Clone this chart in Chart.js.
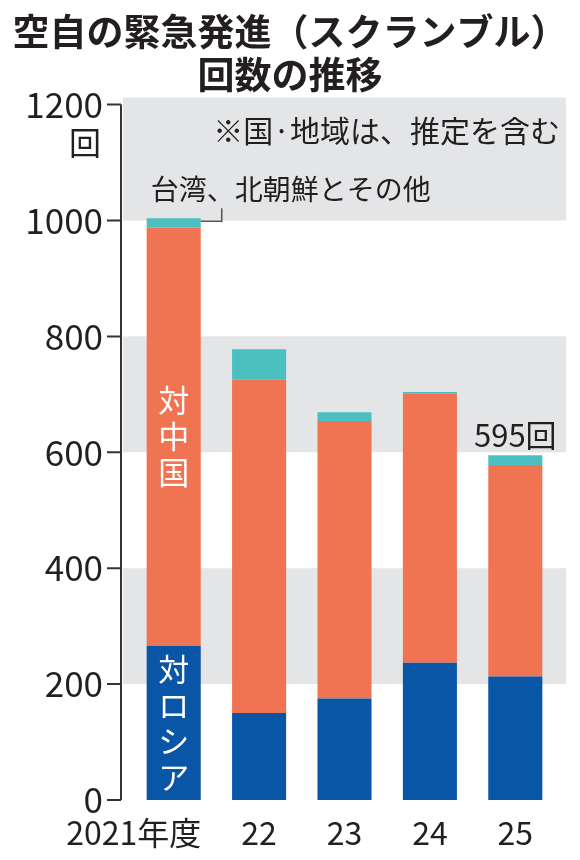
<!DOCTYPE html>
<html>
<head>
<meta charset="utf-8">
<script src="https://cdn.jsdelivr.net/npm/chart.js@4/dist/chart.umd.min.js"></script>
<style>
  html, body { margin: 0; padding: 0; background: #fff; }
  #wrap { width: 580px; height: 860px; }
</style>
</head>
<body>
<div id="wrap"><canvas id="myChart" width="580" height="860"></canvas></div>
<script>
const years = ["2021年度", "22", "23", "24", "25"];
const russia = [266, 150, 175, 237, 213]; // 対ロシア
const china = [722, 575, 479, 464, 365]; // 対中国
const others = [16, 53, 15, 3, 17]; // 台湾、北朝鮮とその他
const yTicks = [0, 200, 400, 600, 800, 1000, 1200];
const titleLines = ["空自の緊急発進（スクランブル）", "回数の推移"];
const unitLabel = "回";
const noteLabel = "※国·地域は、推定を含む";
const othersLabel = "台湾、北朝鮮とその他";
const chinaLabel = ["対", "中", "国"];
const russiaLabel = ["対", "ロ", "シ", "ア"];
const lastTotalLabel = "595回";

const FONT = "'Noto Sans CJK JP', 'Noto Sans', sans-serif";
const INK = "#231f20";
Chart.defaults.font.family = FONT;

const decor = {
  id: "decor",
  beforeDatasetsDraw(chart) {
    const ctx = chart.ctx;
    const y = chart.scales.y;
    const area = chart.chartArea;
    ctx.save();
    ctx.fillStyle = "#e4e5e7";
    // grey bands 200-400, 600-800, 1000-1200
    [[200, 400], [600, 800], [1000, 1200]].forEach(([a, b]) => {
      let top = y.getPixelForValue(b);
      if (b === 1200) top -= 7;
      const bot = y.getPixelForValue(a);
      ctx.fillRect(area.left - 8, top, area.right - area.left + 16, bot - top);
    });
    ctx.restore();
  },
  afterDatasetsDraw(chart) {
    const ctx = chart.ctx;
    const y = chart.scales.y;
    const area = chart.chartArea;
    const axisX = area.left - 10;
    ctx.save();
    // axis line and ticks
    ctx.strokeStyle = "#333";
    ctx.lineWidth = 2;
    ctx.beginPath();
    ctx.moveTo(axisX, y.getPixelForValue(1200));
    ctx.lineTo(axisX, y.getPixelForValue(0));
    yTicks.forEach((v) => {
      const py = y.getPixelForValue(v);
      ctx.moveTo(axisX - 14, py);
      ctx.lineTo(axisX, py);
    });
    ctx.stroke();

    // unit under 1200
    ctx.fillStyle = INK;
    ctx.font = "32px " + FONT;
    ctx.textAlign = "right";
    ctx.textBaseline = "middle";
    ctx.fillText(unitLabel, axisX - 20, y.getPixelForValue(1200) + 38);

    // notes
    ctx.font = "30px " + FONT;
    ctx.textAlign = "right";
    ctx.fillText(noteLabel, area.right + 2, y.getPixelForValue(1200) + 26);

    const bar0 = chart.getDatasetMeta(2).data[0];
    const bar0Right = bar0.x + bar0.width / 2;
    ctx.textAlign = "left";
    ctx.font = "28px " + FONT;
    ctx.fillText(othersLabel, bar0.x - bar0.width / 2 + 4, y.getPixelForValue(1000) - 31);

    // small leader line to the others segment
    ctx.strokeStyle = "#555";
    ctx.lineWidth = 1.5;
    ctx.beginPath();
    ctx.moveTo(bar0Right + 21, bar0.y - 10);
    ctx.lineTo(bar0Right + 21, bar0.y + 4);
    ctx.moveTo(bar0Right, bar0.y + 3);
    ctx.lineTo(bar0Right + 21, bar0.y + 3);
    ctx.stroke();

    // vertical labels inside first bar
    ctx.fillStyle = "#fff";
    ctx.font = "31px " + FONT;
    ctx.textAlign = "center";
    const drawVertical = (chars, meta) => {
      const el = meta.data[0];
      const mid = (el.y + el.base) / 2;
      const step = 36;
      chars.forEach((c, i) => {
        ctx.fillText(c, el.x, mid + (i - (chars.length - 1) / 2) * step);
      });
    };
    drawVertical(chinaLabel, chart.getDatasetMeta(1));
    drawVertical(russiaLabel, chart.getDatasetMeta(0));

    // total label above the latest bar
    const last = chart.getDatasetMeta(2).data[years.length - 1];
    ctx.fillStyle = INK;
    ctx.font = "31px " + FONT;
    ctx.textAlign = "center";
    ctx.fillText(lastTotalLabel, last.x, last.y - 20);
    ctx.restore();
  },
};

const ctx = document.getElementById("myChart").getContext("2d");
const myChart = new Chart(ctx, {
  type: "bar",
  data: {
    labels: years,
    datasets: [
      { label: "対ロシア", data: russia, backgroundColor: "#0a56a6" },
      { label: "対中国", data: china, backgroundColor: "#f07352" },
      { label: "台湾、北朝鮮とその他", data: others, backgroundColor: "#4cbfc0" },
    ],
  },
  options: {
    responsive: false,
    animation: false,
    devicePixelRatio: 1,
    datasets: {
      bar: { barPercentage: 0.633, categoryPercentage: 1, borderWidth: 0 },
    },
    layout: { padding: 0 },
    scales: {
      x: {
        stacked: true,
        grid: { display: false, drawTicks: false },
        border: { display: false },
        afterFit(scale) { scale.height = 60; },
        ticks: {
          color: INK,
          padding: 14,
          maxRotation: 0,
          autoSkip: false,
          font: { size: 32 },
          callback: function (value, index) {
            return index === 0 ? years[0] + "\u2002\u2002\u2002\u2002\u2002" : years[index];
          },
        },
      },
      y: {
        stacked: true,
        min: 0,
        max: 1200,
        afterFit(scale) { scale.width = 131; },
        afterBuildTicks(scale) { scale.ticks = yTicks.map((v) => ({ value: v })); },
        grid: { display: false, drawTicks: false },
        border: { display: false },
        ticks: {
          color: INK,
          padding: 28,
          font: { size: 35 },
          callback: (value) => String(value),
        },
      },
      // empty right-hand margin so the title stays centred on the page
      yRight: {
        position: "right",
        display: true,
        afterFit(scale) { scale.width = 22; },
        grid: { display: false, drawTicks: false },
        border: { display: false },
        ticks: { display: false },
      },
    },
    plugins: {
      legend: { display: false },
      tooltip: { enabled: false },
      title: {
        display: true,
        text: titleLines,
        color: INK,
        font: { size: 37, weight: "bold", lineHeight: 1.17 },
        padding: { top: 10, bottom: 8 },
      },
    },
  },
  plugins: [decor],
});
</script>
</body>
</html>
